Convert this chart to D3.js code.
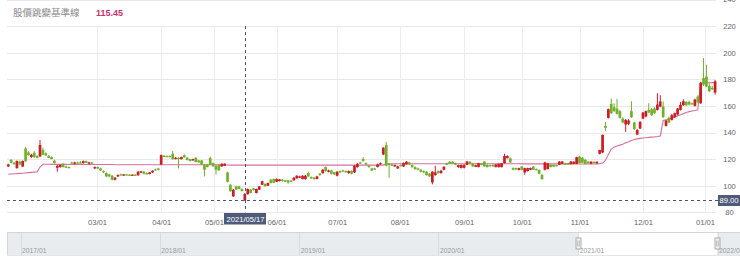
<!DOCTYPE html>
<html><head><meta charset="utf-8">
<script src="https://cdn.jsdelivr.net/npm/d3@7/dist/d3.min.js"></script>
<style>
html,body{margin:0;padding:0;background:#fff;}
svg{display:block;font-family:"Liberation Sans",Arial,sans-serif;}
</style></head><body>
<svg id="chart" width="740" height="270"></svg>
<script>
// ---- categories: trading days ----
const monthKeys = ["2021-01","2021-02","2021-03","2021-04","2021-05","2021-06","2021-07","2021-08","2021-09","2021-10","2021-11","2021-12","2022-01"];
const monthDays = [
  [6,7,8,11,12,13,14,15,18,19,20,21,22,25,26,27,28,29],
  [1,2,3,4,5,17,18,19,22,23,24,25,26],
  [2,3,4,5,8,9,10,11,12,15,16,17,18,19,22,23,24,25,26,29,30,31],
  [1,7,8,9,12,13,14,15,16,19,20,21,22,23,26,27,28,29,30],
  [3,4,5,6,7,10,11,12,13,14,17,18,19,20,21,24,25,26,27,28,31],
  [1,2,3,4,7,8,9,10,11,15,16,17,18,21,22,23,24,25,28,29,30],
  [1,2,5,6,7,8,9,12,13,14,15,16,19,20,21,22,23,26,27,28,29,30],
  [2,3,4,5,6,9,10,11,12,13,16,17,18,19,20,23,24,25,26,27,30,31],
  [1,2,3,6,7,8,9,10,13,14,15,16,17,22,23,24,27,28,29,30],
  [1,4,5,6,7,8,12,13,14,15,18,19,20,21,22,25,26,27,28,29],
  [1,2,3,4,5,8,9,10,11,12,15,16,17,18,19,22,23,24,25,26,29,30],
  [1,2,3,6,7,8,9,10,13,14,15,16,17,20,21,22,23,24,27,28,29,30],
  [3,4,5,6]
];

// ---- series: [open, high, low, close] ----
const ohlc = [
 // Jan
 [114.5,116.5,114,116],[119.4,120,116.9,117.2],[117.2,117.8,115.8,116.2],[113.2,119,112.8,118.6],[118.1,118.8,115.6,115.9],
 [114.4,119,114,118.6],[128,129,118,118.3],[125,126,122.5,123],[121.5,124,121,123.3],[124.8,126,121,121.5],
 [122.3,123,120.5,121],[122,134.4,121.5,130.6],[127,128.5,123,123.3],[124.4,125,122.5,122.8],[122.5,123,120.8,121],
 [121.5,122,119.8,120],[118.8,119.5,116.6,117],[113.5,115.5,110.5,115],
 // Feb
 [114,116,113.5,115.5],[116.5,117,113.7,114],[114.5,115,113.3,113.6],[114,114.5,113.3,113.5],[117.5,118,116.8,117],
 [116.5,118,116,117.5],[117.5,118,116.5,117],[117.5,118.5,116.8,117.2],[117,119,116.5,118.5],[118.5,119,117,117.3],
 [116.5,118,116,117.5],[117.5,118,116.5,116.8],[113,114.5,112.5,114],
 // Mar
 [114,114.5,112.5,113],[113,113.5,111,111.5],[111,111.5,109.5,110],[109.5,110,106.5,107],[108.5,109,106.5,107],
 [107.5,108,104,104.5],[104.5,106.5,104,106],[107,108.5,106.5,108],[108.5,109,107.8,108],[107.8,108.8,107.5,108.5],
 [108.5,108.8,107.8,108],[108.3,108.7,107.5,107.8],[107.7,108.5,107.5,108.3],[108.3,108.7,107.5,107.8],[107.8,111,107.5,110.5],
 [109.8,111.2,109.5,110.8],[110.5,111,108.5,109],[109.5,110,108.3,108.5],[108.8,110.2,108.5,110],[110,111.5,109.5,111.3],
 [112.3,112.8,111.5,112],[113,113.5,111.5,112],
 // Apr
 [116,123.5,115.5,123],[122.5,123,121.8,122],[122.3,122.8,121.7,122],[122.3,122.8,121.5,122],[124,126,119.5,120],
 [120,121.5,119.8,121],[121,121.5,113,120],[120,121.8,119.7,121.5],[123,123.5,121,121.3],[121,121.5,119,119.3],
 [120,120.3,118.3,118.5],[119,120.3,118.8,120],[121,121.5,117.5,117.8],[119,119.5,117.3,117.6],[119,119.3,115.8,116],
 [115.8,116.2,107,112],[115.8,116.3,113.8,114],[120.8,122,115.5,115.8],[117,117.5,114.3,114.5],
 // May
 [115,115.5,108.3,112],[115.8,116.3,111.3,111.5],[114.5,116.8,114.2,116.5],[115,116.8,114.8,116.5],[110,110.5,102.5,103],
 [100.7,101.2,95.5,95.8],[92,97.5,91.5,97],[99.5,100,96.8,97],[99.5,100,97.3,97.6],[97.5,98,95.5,96],
 [89,94.5,88.5,93.7],[93.6,98,93.3,97.5],[97,97.5,94.3,94.6],[98,98.4,96.4,96.7],[94.5,97.8,94.2,97.5],
 [97,99.8,96.8,99.5],[100.7,103.8,100.5,103.3],[101.3,101.8,99.3,99.6],[100,102.3,99.8,102],[104.5,105,101.8,102],
 [105,105.3,101.8,102.2],
 // Jun
 [103,105.5,102.8,105],[103.5,105,103.2,104.8],[104.5,105,103,103.5],[104,104.5,102.8,103],[104,104.3,101.5,102.5],
 [103.8,104.2,103.2,103.4],[104,106.5,103.8,106],[105.5,107.8,105.3,107.5],[106,107.5,105.8,107],[105,107.8,104.8,107.5],
 [105,108,104.5,107.5],[109.5,110.5,106.5,107],[106.5,107,105,105.5],[106,106.5,104.5,105],[105,107.5,104.8,107],
 [109,109.5,107.5,108],[109.5,112.5,109,112],[114,114.5,110.5,111],[110.5,112,110,111.5],[111.5,112,108.5,109],
 [110,110.5,108,108.5],
 // Jul
 [107.5,111,107,110.5],[111,111.5,109.5,110],[111.5,112,110.5,110.8],[111,111.5,109.8,110.3],[109.5,111.5,109,111],
 [111,111.5,108.5,109],[110,115.5,109.5,115],[114,117,113.5,116.5],[117.5,118,116.5,117],[120,121.5,118,118.5],
 [117,117.5,115.5,116],[115,115.5,113.5,114],[113,113.5,111,111.5],[113,113.5,111.8,112.3],[114,116.5,113.8,116],
 [116,117.5,115.8,117],[123.5,129,123,128.5],[130.5,133,114.5,115],[116.5,117,106,115.5],[116,116.5,114.5,115],
 [114.5,116,114,115.5],[113,115,112.5,114.5],
 // Aug
 [115.5,116,114.5,115],[114.5,117.5,114,117],[116,118.5,115.8,118],[117.5,118,115.5,116],[115.5,116,113.5,114],
 [114,114.5,112,112.5],[113,113.5,111.5,112],[112,112.5,110,110.5],[111,111.5,109.5,110],[110.5,111,107.5,108],
 [109,109.5,106.5,107],[102.5,111,101,110.5],[108,115,107.5,110],[111,111.5,109,109.5],[109.5,112,109,111.3],
 [112,114.5,111.5,114.3],[116.8,117.3,115.5,115.8],[118,118.5,116.3,116.5],[118,118.5,116.3,116.6],[116.8,117.3,115.5,115.8],
 [114,115.8,113.5,115.5],[113.3,116,113,115.6],
 // Sep
 [113.5,116,113,115.7],[115.7,118.6,115.5,118.2],[118,118.5,116,116.4],[116.8,117.2,114.2,114.5],[114.2,115.8,114,115.4],
 [114,117.2,113.8,116.9],[116.5,117,115.3,115.6],[118.2,118.6,114.2,114.5],[115.7,116,113.7,114],[115.5,115.8,114.4,114.7],
 [115.7,116,114.2,114.5],[114,116.2,113.7,116],[114,116.6,113.6,116.4],[114,117.1,113.7,116.9],[117,124,116.7,122.4],
 [120.7,122.8,120.5,122.3],[120.6,121.1,117.2,117.5],[113.2,113.8,111.6,112],[113.2,113.6,111.8,112.2],[111.9,113.5,111.6,113.2],
 // Oct
 [114.4,114.8,111.6,111.9],[110,113.5,108.2,113.2],[111,113.5,110.7,113.2],[112,113.6,111.7,113.3],[114.4,114.8,111.8,112],
 [112.5,113,111.6,111.9],[111.9,112.3,108.6,108.9],[108.2,108.6,104.6,104.9],[112,118,111.5,117.5],[112.5,117,112.2,116.8],
 [115.7,116.2,113.8,114],[115.7,116,114,114.3],[115.5,115.9,114.4,114.8],[115.7,118.5,115.5,118.2],[116.5,118.5,116.2,118.2],
 [116.9,117.3,115.5,115.8],[116.8,117.2,115.6,115.9],[116.2,118.5,116,118.2],[116.5,118.4,116.3,118],[116.4,121.8,116.2,121.4],
 // Nov
 [121.9,122.5,116.7,117],[121,121.5,117,117.3],[119.5,120,116,116.4],[118,118.5,116.5,116.8],[116.5,118.5,116.2,118],
 [118,118.3,116.8,117],[116.8,118.3,116.5,118],[124,127,123.5,126.8],[125,138.5,124.5,138.2],[145,148,141,143.5],
 [151,158,150.5,157.6],[161.5,165.5,154,154.5],[159,162,155.5,156],[158,165.3,153.5,154],[156,157,150.5,151],
 [150.5,151.5,147,147.5],[146,150,140.5,149.5],[146.5,150,145.5,149],[156,163.5,151,151.5],[147.5,148,142,142.5],
 [138.5,142.5,138,142],[143,148.5,142.5,148],
 // Dec
 [150.5,155.5,150,155],[152,156.5,151.5,156],[157,162,154.5,155],[157.5,158.5,152.5,153],[158,159,154,154.5],
 [157,169.5,156.5,161],[159.5,168,159,163.3],[159.5,163.5,151,151.5],[145,149.5,144.5,149],[151,152,147,147.5],
 [149.5,154,149,153],[151.5,155,151,154.5],[153.5,158.5,153,158],[157,163,156.5,160.8],[160.5,165,160,163.5],
 [163,163.5,160,160.5],[163,164,160.5,161],[162,162.5,160.8,161.2],[160,165.5,159.5,164.8],[167,168,162,162.5],
 [162,178,161.5,177.4],[181,196,175,176],
 // Jan 2022
 [182,191,174,174.5],[175,177,170.5,171],[173.5,175,172,172.5],[170,179.5,168.5,178.5]
];

// ---- series: 股價跳變基準線 (baseline) ----
const baseline = [
 108.6,108.8,109,109.1,109.3,109.4,109.6,109.8,110,110.2,110.4,114,116.1,116.1,116.1,116,116,116,
 116,116,116,115.9,115.9,115.9,115.9,115.9,115.9,115.9,115.9,115.9,115.9,
 115.9,115.9,115.9,115.9,115.9,115.9,115.8,115.8,115.8,115.8,115.8,115.8,115.8,115.8,115.8,115.8,115.8,115.8,115.8,115.8,115.8,115.8,
 115.8,115.8,115.8,115.8,115.8,115.8,115.8,115.8,115.8,115.8,115.7,115.7,115.7,115.7,115.7,115.7,115.7,115.7,115.7,
 115.7,115.7,115.6,115.6,115.6,115.5,115.5,115.5,115.5,115.5,115.45,115.45,115.45,115.45,115.45,115.45,115.45,115.45,115.45,115.45,115.45,
 115.5,115.5,115.5,115.5,115.5,115.5,115.5,115.5,115.5,115.5,115.5,115.5,115.5,115.5,115.5,115.5,115.5,115.5,115.5,115.5,115.5,
 115.5,115.5,115.5,115.5,115.5,115.5,115.5,115.5,115.5,115.5,115.5,115.5,115.5,115.5,115.5,115.5,115.5,116.5,116.5,116.5,116.5,116.5,
 116.5,116.5,116.5,116.5,116.5,116.5,116.5,116.5,116.5,116.5,116.5,116.5,116.5,116.5,116.5,116.5,116.5,116.5,116.5,116.5,116.5,116.5,
 116.5,116.5,116.5,116.5,116.5,116.5,116.5,116.5,116.5,116.5,116.5,116.5,116.5,116.5,116.5,116.5,116.5,116.5,116.5,116.5,
 116.4,116.4,116.4,116.4,116.4,116.4,116.4,116.4,116.4,116.4,116.4,116.4,116.4,116.4,116.4,116.4,116.4,116.4,116.4,116.4,
 116.3,116.3,116.3,116.3,116.3,116.3,116.4,116.6,117,119,123.5,127.5,129,129.8,130.5,131.2,132.2,133,134,134.8,135.2,135.6,
 135.9,136.1,136.3,136.5,136.7,137,137.4,149,149.6,150.3,151,151.7,152.5,153.3,154.2,155,155.7,156.2,156.6,157,177,177.2,
 177.3,177.4,177.5,177.5
];

const yTicks = [80,100,120,140,160,180,200,220,240];
const xTickDates = ["2021-03-01","2021-04-01","2021-05-01","2021-06-01","2021-07-01","2021-08-01","2021-09-01","2021-10-01","2021-11-01","2021-12-01","2022-01-01"];
const xTickLabels = ["03/01","04/01","05/01","06/01","07/01","08/01","09/01","10/01","11/01","12/01","01/01"];
const navYearDates = ["2017-01-01","2018-01-01","2019-01-01","2020-01-01","2021-01-01","2022-01-01"];
const navYearLabels = ["2017/01","2018/01","2019/01","2020/01","2021/01","2022/01"];
const navSelection = ["2021-01-01","2021-12-31"];
const legendName = "股價跳變基準線";
const legendValue = "115.45";
const crosshairDate = "2021-05-17";
const crosshairValue = 89.00;

// ---- build dates ----
const parse = d3.timeParse("%Y-%m-%d");
const dates = [];
monthKeys.forEach((m, i) => monthDays[i].forEach(d => dates.push(parse(m + "-" + String(d).padStart(2, "0")))));
const n = dates.length;

const svg = d3.select("#chart");
const plotL = 7, plotR = 716, plotT = -0.5, plotB = 212.3;

const x = d3.scaleLinear().domain([0, n - 1]).range([8.27, 8.27 + 2.885 * (n - 1)]);
const y = d3.scaleLinear().domain([80, 240]).range([plotB, plotT]);

function dateIndex(dt) {
  const t = dt.getTime();
  let i = d3.bisector(d => d.getTime()).right(dates, t) - 1;
  if (i < 0) return 0;
  if (i >= n - 1) return n - 1;
  const t0 = dates[i].getTime(), t1 = dates[i + 1].getTime();
  return i + (t - t0) / (t1 - t0);
}

const red = "#cc1c24", green = "#72b02a", pink = "#d8709e";

// horizontal grid
svg.append("g").selectAll("line").data(yTicks).join("line")
  .attr("x1", plotL).attr("x2", plotR)
  .attr("y1", d => Math.round(y(d)) + 0.5).attr("y2", d => Math.round(y(d)) + 0.5)
  .attr("stroke", "#e8e8e8").attr("stroke-width", 1);

// vertical grid at month ticks
const xTickIdx = xTickDates.map(s => dateIndex(parse(s)));
svg.append("g").selectAll("line").data(xTickIdx).join("line")
  .attr("x1", d => Math.round(x(d)) + 0.5).attr("x2", d => Math.round(x(d)) + 0.5)
  .attr("y1", 26).attr("y2", plotB + 1)
  .attr("stroke", "#ededed").attr("stroke-width", 1);

// x axis labels
const xAxis = d3.axisBottom(x).tickValues(xTickIdx).tickSize(0).tickPadding(7)
  .tickFormat((d, i) => xTickLabels[i]);
const gx = svg.append("g").attr("transform", `translate(0,${plotB})`).call(xAxis);
gx.select(".domain").remove();
gx.selectAll("text").attr("fill", "#666").attr("font-size", "7.6px")
  .attr("font-family", "Liberation Sans, Arial, sans-serif");

// y axis labels (right)
const yAxis = d3.axisRight(y).tickValues(yTicks).tickSize(0).tickPadding(0);
const gy = svg.append("g").attr("transform", `translate(729.5,0)`).call(yAxis);
gy.select(".domain").remove();
gy.selectAll("text").attr("fill", "#666").attr("font-size", "7.6px").attr("text-anchor", "middle")
  .attr("font-family", "Liberation Sans, Arial, sans-serif");

// baseline line
const line = d3.line().x((d, i) => x(i)).y(d => y(d));
svg.append("path").datum(baseline).attr("d", line)
  .attr("fill", "none").attr("stroke", pink).attr("stroke-width", 1.1);

// candles
const bw = 2.7;
const cg = svg.append("g");
cg.selectAll("line").data(ohlc).join("line")
  .attr("x1", (d, i) => x(i)).attr("x2", (d, i) => x(i))
  .attr("y1", d => y(d[1])).attr("y2", d => y(d[2]))
  .attr("stroke", d => d[3] >= d[0] ? red : green).attr("stroke-width", 1);
cg.selectAll("rect").data(ohlc).join("rect")
  .attr("x", (d, i) => x(i) - bw / 2).attr("width", bw)
  .attr("y", d => y(Math.max(d[0], d[3])))
  .attr("height", d => Math.max(1.2, Math.abs(y(d[0]) - y(d[3]))))
  .attr("fill", d => d[3] >= d[0] ? red : green);

// crosshair
const chIdx = dateIndex(parse(crosshairDate));
const chX = Math.round(x(chIdx)) + 0.5;
const chY = Math.round(y(crosshairValue)) + 0.5;
svg.append("line").attr("x1", chX).attr("x2", chX).attr("y1", 26).attr("y2", plotB)
  .attr("stroke", "#555").attr("stroke-dasharray", "3,3").attr("stroke-width", 1);
svg.append("line").attr("x1", plotL).attr("x2", 718).attr("y1", chY).attr("y2", chY)
  .attr("stroke", "#555").attr("stroke-dasharray", "3,3").attr("stroke-width", 1);

// crosshair labels
const boxFill = "#4e5b7b";
const dl = svg.append("g");
dl.append("rect").attr("x", chX - 21.5).attr("y", 213).attr("width", 42).attr("height", 11.5).attr("fill", boxFill);
dl.append("text").attr("x", chX).attr("y", 221.8).attr("text-anchor", "middle")
  .attr("fill", "#fff").attr("font-size", "7.6px").text(d3.timeFormat("%Y/%m/%d")(parse(crosshairDate)));
const vl = svg.append("g");
vl.append("rect").attr("x", 718).attr("y", chY - 5.5).attr("width", 22).attr("height", 11).attr("fill", boxFill);
vl.append("text").attr("x", 729).attr("y", chY + 2.8).attr("text-anchor", "middle")
  .attr("fill", "#fff").attr("font-size", "7.6px").text(crosshairValue.toFixed(2));

// legend header
svg.append("text").attr("x", 13).attr("y", 16).attr("fill", "#8a8a8a").attr("font-size", "9.5px")
  .attr("font-family", "Noto Sans CJK TC, sans-serif").text(legendName);
svg.append("text").attr("x", 96).attr("y", 16).attr("fill", "#c8336f").attr("font-size", "9px")
  .attr("font-weight", "bold").text(legendValue);

// navigator
const navT = 232, navB = 255;
const nx = d3.scaleTime().domain([parse("2017-01-01"), parse("2022-01-01")]).range([20.5, 717.5]);
const ng = svg.append("g");
ng.append("rect").attr("x", 7).attr("y", navT).attr("width", 733).attr("height", navB - navT).attr("fill", "#e9ecef");
const s0 = nx(parse(navSelection[0])), s1 = nx(parse(navSelection[1]));
ng.append("rect").attr("x", s0).attr("y", navT).attr("width", s1 - s0).attr("height", navB - navT).attr("fill", "#fff");
ng.selectAll("line.yr").data(navYearDates).join("line").attr("class", "yr")
  .attr("x1", d => Math.round(nx(parse(d))) + 0.5).attr("x2", d => Math.round(nx(parse(d))) + 0.5)
  .attr("y1", navT).attr("y2", navB).attr("stroke", "#d8dbde");
ng.append("line").attr("x1", 7).attr("x2", 740).attr("y1", navT + 0.5).attr("y2", navT + 0.5).attr("stroke", "#d3d7db");
ng.append("line").attr("x1", 7).attr("x2", 740).attr("y1", navB + 0.5).attr("y2", navB + 0.5).attr("stroke", "#e3e6e9");
ng.append("line").attr("x1", 7.5).attr("x2", 7.5).attr("y1", navT).attr("y2", navB).attr("stroke", "#d3d7db");
ng.selectAll("text.yr").data(navYearDates).join("text").attr("class", "yr")
  .attr("x", (d) => nx(parse(d)) + 1.5).attr("y", 252.5)
  .attr("fill", "#999").attr("font-size", "6.8px").text((d, i) => navYearLabels[i]);
[s0, s1].forEach(h => {
  const hx = Math.round(h) + 0.5;
  ng.append("rect").attr("x", hx - 2.5).attr("y", 238).attr("width", 5).attr("height", 11)
    .attr("fill", "#f2f2f2").attr("stroke", "#999").attr("stroke-width", 0.8);
  ng.append("line").attr("x1", hx - 0.8).attr("x2", hx - 0.8).attr("y1", 240.5).attr("y2", 246.5).attr("stroke", "#999").attr("stroke-width", 0.6);
  ng.append("line").attr("x1", hx + 0.8).attr("x2", hx + 0.8).attr("y1", 240.5).attr("y2", 246.5).attr("stroke", "#999").attr("stroke-width", 0.6);
});
</script>
</body></html>
